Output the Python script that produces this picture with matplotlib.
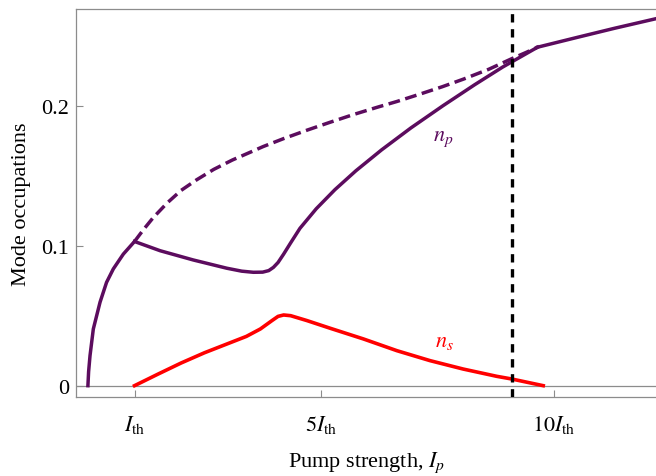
import matplotlib
matplotlib.use("Agg")
import matplotlib.pyplot as plt

plt.rcParams['font.family'] = ['Liberation Serif', 'DejaVu Serif']
plt.rcParams['mathtext.fontset'] = 'stix'

# Photon-mode occupations versus pump strength (units of I_th)
np_rise_x = [0.0, 0.015, 0.045, 0.116, 0.26, 0.40, 0.545, 0.76, 1.0]
np_rise_y = [0.0, 0.010, 0.0214, 0.0405, 0.0596, 0.0738, 0.0834, 0.094, 0.103]

np_unstable_x = [1.0, 1.2, 1.4, 1.7, 2.0, 2.33, 2.7, 3.1, 3.5, 3.76, 4.2, 4.7,
                 5.2, 5.7, 6.2, 6.63, 7.1, 7.6, 8.06, 8.6, 9.09, 9.4, 9.65]
np_unstable_y = [0.103, 0.1118, 0.1200, 0.1305, 0.1395, 0.1470, 0.1545, 0.1612,
                 0.1670, 0.1708, 0.1765, 0.1825, 0.1882, 0.1937, 0.1988,
                 0.2030, 0.2080, 0.2135, 0.2190, 0.2260, 0.2335, 0.2380, 0.2418]

np_lasing_x = [1.0, 1.55, 2.26, 2.98, 3.3, 3.55, 3.75, 3.88, 3.98, 4.08, 4.2,
               4.35, 4.55, 4.9, 5.3, 5.75, 6.3, 6.93, 7.62, 8.3, 8.9, 9.65]
np_lasing_y = [0.103, 0.0964, 0.0898, 0.0839, 0.0818, 0.0810, 0.0811, 0.0822,
               0.0845, 0.0880, 0.0940, 0.1020, 0.1124, 0.1264, 0.140, 0.1535,
               0.1684, 0.1841, 0.200, 0.215, 0.2276, 0.2418]

np_high_x = [9.65, 10.5, 11.3, 12.3]
np_high_y = [0.2418, 0.2488, 0.2553, 0.2630]

ns_x = [1.0, 1.5, 2.0, 2.5, 3.0, 3.4, 3.7, 3.95, 4.08, 4.2, 4.35, 4.7,
        5.2, 5.91, 6.63, 7.34, 8.05, 8.77, 9.09, 9.77]
ns_y = [0.0, 0.0082, 0.0162, 0.0235, 0.0300, 0.0352, 0.0405, 0.0465, 0.0495,
        0.0505, 0.0500, 0.0465, 0.041, 0.0334, 0.025, 0.0179, 0.0119, 0.0067,
        0.0048, 0.0]

threshold_x = 9.09

xticks = [1, 5, 10]
xtick_labels = [r'$I_{\mathrm{th}}$', r'$5I_{\mathrm{th}}$', r'$10I_{\mathrm{th}}$']
yticks = [0, 0.1, 0.2]
ytick_labels = ['0', '0.1', '0.2']

purple = '#5c0c5e'
red = '#ff0000'
frame = '#8c8c8c'

fig = plt.figure(figsize=(6.56, 4.77), dpi=100)
ax = fig.add_axes([0.1159, 0.165, 0.8841, 0.815])

ax.axhline(0, color=frame, lw=0.9, zorder=1)

ax.plot(np_rise_x, np_rise_y, color=purple, lw=2.5, zorder=3)
ax.plot(np_unstable_x, np_unstable_y, color=purple, lw=2.5,
        linestyle=(0, (3.4, 1.6)), zorder=3)
ax.plot(np_lasing_x, np_lasing_y, color=purple, lw=2.5, zorder=3)
ax.plot(np_high_x, np_high_y, color=purple, lw=2.5, zorder=3)
ax.plot(ns_x, ns_y, color=red, lw=2.6, zorder=3)
ax.axvline(threshold_x, color='black', lw=2.4, linestyle=(0, (2.5, 2.0)), zorder=4)

ax.text(7.62, 0.177, r'$n_p$', color=purple, fontsize=16, ha='center', va='center')
ax.text(7.66, 0.0318, r'$n_s$', color=red, fontsize=16, ha='center', va='center')

ax.set_xlim(-0.255, 12.19)
ax.set_ylim(-0.0083, 0.2694)

ax.set_xticks(xticks)
ax.set_xticklabels(xtick_labels, fontsize=16)
ax.set_yticks(yticks)
ax.set_yticklabels(ytick_labels, fontsize=16)
ax.tick_params(axis='x', direction='in', length=5, width=0.8, color=frame, pad=11)
ax.tick_params(axis='y', direction='in', length=5, width=0.8, color=frame, pad=5)

for side in ['left', 'top', 'bottom']:
    ax.spines[side].set_color(frame)
    ax.spines[side].set_linewidth(0.9)
ax.spines['right'].set_visible(False)

ax.set_xlabel(r'Pump strength, $I_p$', fontsize=16, labelpad=11)
ax.set_ylabel('Mode occupations', fontsize=16, labelpad=7)

fig.savefig('out.png', dpi=100)
